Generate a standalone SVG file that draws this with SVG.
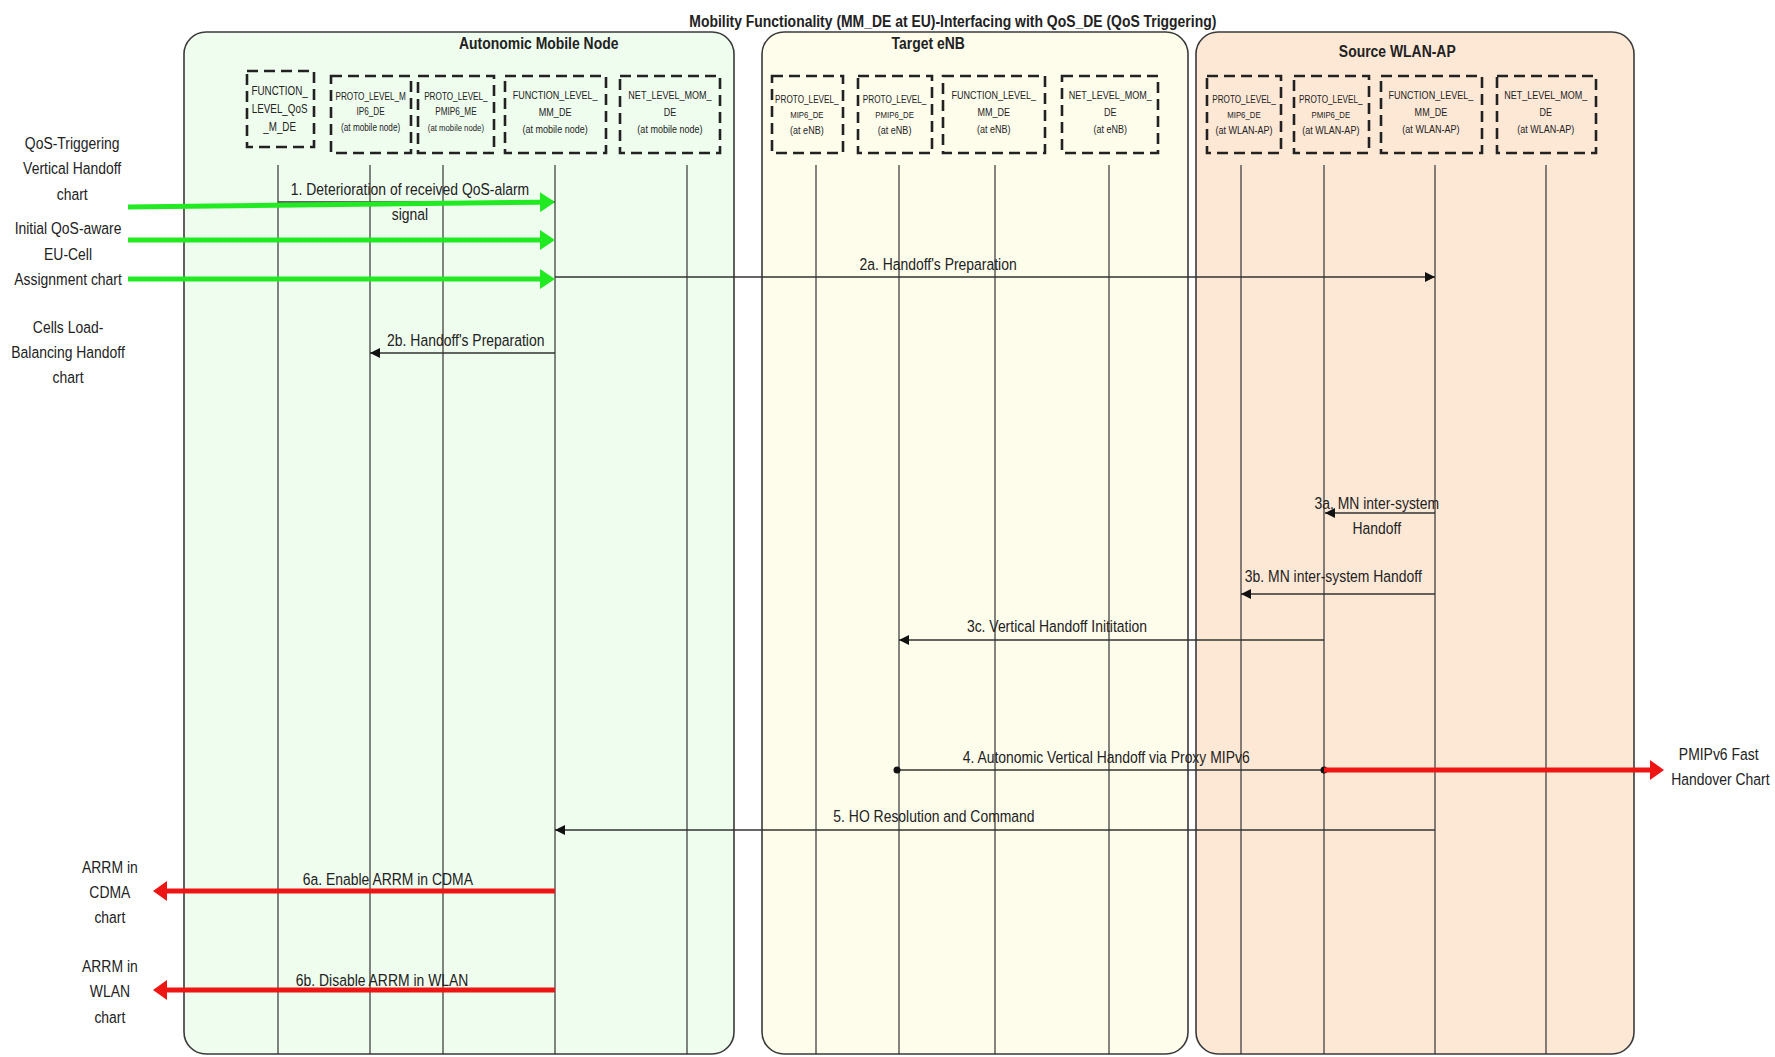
<svg xmlns="http://www.w3.org/2000/svg" width="1775" height="1057" viewBox="0 0 1775 1057">
  <defs>
    <style>
      /* narrow face emulated by a horizontal squeeze; x positions are given in squeezed units (x / 0.82) */
      text { font-family: "Liberation Sans", Arial, sans-serif; fill: #222; text-anchor: middle; transform: scale(0.82, 1); transform-origin: 0 0; }
      .title { font-size: 17px; font-weight: bold; }
      .hdr { font-size: 17px; font-weight: bold; }
      .lbl { font-size: 17px; }
      .s12 { font-size: 12px; }
      .s11 { font-size: 11px; }
      .s10 { font-size: 10px; }
      .s9 { font-size: 9.5px; }
      .frame { stroke: #3a3a3a; stroke-width: 1.6; }
      .mn { fill: #effdee; }
      .enb { fill: #fefdec; }
      .ap { fill: #fde8d6; }
      .box { fill: none; stroke: #222; stroke-width: 2.6; stroke-dasharray: 11 6; }
      .life { stroke: #333; stroke-width: 1.2; }
      .msg { stroke: #333; stroke-width: 1.5; fill: none; marker-end: url(#ah); }
      .green { stroke: #22ea22; stroke-width: 5; fill: none; marker-end: url(#ahg); }
      .red { stroke: #ee1515; stroke-width: 5; fill: none; marker-end: url(#ahr); }
    </style>
    <marker id="ah" viewBox="0 0 10 10" refX="10" refY="5" markerUnits="userSpaceOnUse" markerWidth="11" markerHeight="10" orient="auto">
      <path d="M0,0 L10,5 L0,10 z" fill="#111"/>
    </marker>
    <marker id="ahg" viewBox="0 0 15 20" refX="0" refY="10" markerUnits="userSpaceOnUse" markerWidth="15" markerHeight="20" orient="auto">
      <path d="M0,0 L15,10 L0,20 z" fill="#22ea22"/>
    </marker>
    <marker id="ahr" viewBox="0 0 14 20" refX="0" refY="10" markerUnits="userSpaceOnUse" markerWidth="14" markerHeight="20" orient="auto">
      <path d="M0,0 L14,10 L0,20 z" fill="#ee1515"/>
    </marker>
  </defs>

  <rect width="1775" height="1057" fill="#ffffff"/>

  <text class="title" x="1162" y="27">Mobility Functionality (MM_DE at EU)-Interfacing with QoS_DE (QoS Triggering)</text>

  <!-- swimlane frames -->
  <g id="lane-mobile-node">
    <rect class="frame mn" x="184" y="32" width="550" height="1022" rx="22"/>
    <text class="hdr" x="657" y="49">Autonomic Mobile Node</text>
  </g>
  <g id="lane-target-enb">
    <rect class="frame enb" x="762" y="32" width="426" height="1022" rx="22"/>
    <text class="hdr" x="1132" y="49">Target eNB</text>
  </g>
  <g id="lane-source-wlan-ap">
    <rect class="frame ap" x="1196" y="32" width="438" height="1022" rx="22"/>
    <text class="hdr" x="1704" y="57">Source WLAN-AP</text>
  </g>

  <!-- lifelines -->
  <g id="lifelines">
    <line class="life" x1="278" y1="165" x2="278" y2="1054"/>
    <line class="life" x1="370" y1="165" x2="370" y2="1054"/>
    <line class="life" x1="443" y1="165" x2="443" y2="1054"/>
    <line class="life" x1="555" y1="165" x2="555" y2="1054"/>
    <line class="life" x1="687" y1="165" x2="687" y2="1054"/>
    <line class="life" x1="816" y1="165" x2="816" y2="1054"/>
    <line class="life" x1="899" y1="165" x2="899" y2="1054"/>
    <line class="life" x1="995" y1="165" x2="995" y2="1054"/>
    <line class="life" x1="1109" y1="165" x2="1109" y2="1054"/>
    <line class="life" x1="1241" y1="165" x2="1241" y2="1054"/>
    <line class="life" x1="1324" y1="165" x2="1324" y2="1054"/>
    <line class="life" x1="1435" y1="165" x2="1435" y2="1054"/>
    <line class="life" x1="1546" y1="165" x2="1546" y2="1054"/>
  </g>

  <!-- participants: mobile node -->
  <g id="mn-function-qos">
    <rect class="box" x="247" y="71" width="67" height="76"/>
    <text class="s12" x="341" y="95">FUNCTION_</text>
    <text class="s12" x="341" y="113">LEVEL_QoS</text>
    <text class="s12" x="341" y="131">_M_DE</text>
  </g>
  <g id="mn-proto-mip6">
    <rect class="box" x="331" y="76" width="80" height="77"/>
    <text class="s10" x="452" y="100">PROTO_LEVEL_M</text>
    <text class="s10" x="452" y="115">IP6_DE</text>
    <text class="s10" x="452" y="131">(at mobile node)</text>
  </g>
  <g id="mn-proto-pmip6">
    <rect class="box" x="418" y="76" width="76" height="77"/>
    <text class="s10" x="556" y="100">PROTO_LEVEL_</text>
    <text class="s10" x="556" y="115">PMIP6_ME</text>
    <text class="s9" x="556" y="131">(at mobile node)</text>
  </g>
  <g id="mn-function-mm">
    <rect class="box" x="505" y="76" width="101" height="77"/>
    <text class="s11" x="677" y="99">FUNCTION_LEVEL_</text>
    <text class="s11" x="677" y="116">MM_DE</text>
    <text class="s11" x="677" y="133">(at mobile node)</text>
  </g>
  <g id="mn-net-mom">
    <rect class="box" x="620" y="76" width="100" height="77"/>
    <text class="s11" x="817" y="99">NET_LEVEL_MOM_</text>
    <text class="s11" x="817" y="116">DE</text>
    <text class="s11" x="817" y="133">(at mobile node)</text>
  </g>

  <!-- participants: target eNB -->
  <g id="enb-proto-mip6">
    <rect class="box" x="772" y="76" width="71" height="77"/>
    <text class="s10" x="984" y="103">PROTO_LEVEL_</text>
    <text class="s9" x="984" y="118">MIP6_DE</text>
    <text class="s11" x="984" y="134">(at eNB)</text>
  </g>
  <g id="enb-proto-pmip6">
    <rect class="box" x="858" y="76" width="74" height="77"/>
    <text class="s10" x="1091" y="103">PROTO_LEVEL_</text>
    <text class="s9" x="1091" y="118">PMIP6_DE</text>
    <text class="s11" x="1091" y="134">(at eNB)</text>
  </g>
  <g id="enb-function-mm">
    <rect class="box" x="943" y="76" width="102" height="77"/>
    <text class="s11" x="1212" y="99">FUNCTION_LEVEL_</text>
    <text class="s11" x="1212" y="116">MM_DE</text>
    <text class="s11" x="1212" y="133">(at eNB)</text>
  </g>
  <g id="enb-net-mom">
    <rect class="box" x="1062" y="76" width="96" height="77"/>
    <text class="s11" x="1354" y="99">NET_LEVEL_MOM_</text>
    <text class="s11" x="1354" y="116">DE</text>
    <text class="s11" x="1354" y="133">(at eNB)</text>
  </g>

  <!-- participants: source WLAN-AP -->
  <g id="ap-proto-mip6">
    <rect class="box" x="1207" y="76" width="74" height="77"/>
    <text class="s10" x="1517" y="103">PROTO_LEVEL_</text>
    <text class="s9" x="1517" y="118">MIP6_DE</text>
    <text class="s11" x="1517" y="134">(at WLAN-AP)</text>
  </g>
  <g id="ap-proto-pmip6">
    <rect class="box" x="1294" y="76" width="75" height="77"/>
    <text class="s10" x="1623" y="103">PROTO_LEVEL_</text>
    <text class="s9" x="1623" y="118">PMIP6_DE</text>
    <text class="s11" x="1623" y="134">(at WLAN-AP)</text>
  </g>
  <g id="ap-function-mm">
    <rect class="box" x="1381" y="76" width="101" height="77"/>
    <text class="s11" x="1745" y="99">FUNCTION_LEVEL_</text>
    <text class="s11" x="1745" y="116">MM_DE</text>
    <text class="s11" x="1745" y="133">(at WLAN-AP)</text>
  </g>
  <g id="ap-net-mom">
    <rect class="box" x="1497" y="76" width="99" height="77"/>
    <text class="s11" x="1885" y="99">NET_LEVEL_MOM_</text>
    <text class="s11" x="1885" y="116">DE</text>
    <text class="s11" x="1885" y="133">(at WLAN-AP)</text>
  </g>

  <!-- external charts -->
  <g id="chart-qos-triggering">
    <text class="lbl" x="88" y="149">QoS-Triggering</text>
    <text class="lbl" x="88" y="174">Vertical Handoff</text>
    <text class="lbl" x="88" y="200">chart</text>
  </g>
  <g id="chart-initial-assignment">
    <text class="lbl" x="83" y="234">Initial QoS-aware</text>
    <text class="lbl" x="83" y="260">EU-Cell</text>
    <text class="lbl" x="83" y="285">Assignment chart</text>
  </g>
  <g id="chart-load-balancing">
    <text class="lbl" x="83" y="333">Cells Load-</text>
    <text class="lbl" x="83" y="358">Balancing Handoff</text>
    <text class="lbl" x="83" y="383">chart</text>
  </g>
  <g id="chart-arrm-cdma">
    <text class="lbl" x="134" y="873">ARRM in</text>
    <text class="lbl" x="134" y="898">CDMA</text>
    <text class="lbl" x="134" y="923">chart</text>
  </g>
  <g id="chart-arrm-wlan">
    <text class="lbl" x="134" y="972">ARRM in</text>
    <text class="lbl" x="134" y="997">WLAN</text>
    <text class="lbl" x="134" y="1023">chart</text>
  </g>
  <g id="chart-pmipv6-fast">
    <text class="lbl" x="2096" y="760">PMIPv6 Fast</text>
    <text class="lbl" x="2098" y="785">Handover Chart</text>
  </g>

  <!-- messages -->
  <g id="connectors">
    <line class="msg" x1="278" y1="202" x2="555" y2="202"/>
    <path class="green" d="M128,207 L540,202.2"/>
    <path class="green" d="M128,240 L540,240"/>
    <path class="green" d="M128,279 L540,279"/>
    <line class="msg" x1="555" y1="277" x2="1435" y2="277"/>
    <line class="msg" x1="555" y1="353" x2="370" y2="353"/>
    <line class="msg" x1="1435" y1="513" x2="1325" y2="513"/>
    <line class="msg" x1="1435" y1="594" x2="1241" y2="594"/>
    <line class="msg" x1="1324" y1="640" x2="899" y2="640"/>
    <line stroke="#333" stroke-width="1.5" x1="897" y1="770" x2="1324" y2="770"/>
    <circle cx="897" cy="770" r="3.5" fill="#111"/>
    <circle cx="1324" cy="770" r="3.5" fill="#111"/>
    <path class="red" d="M1324,770 L1650,770"/>
    <line class="msg" x1="1435" y1="830" x2="555" y2="830"/>
    <path class="red" d="M555,891 L167,891"/>
    <path class="red" d="M555,990 L167,990"/>
  </g>

  <!-- message labels -->
  <g id="message-labels">
    <text class="lbl" x="500" y="195">1. Deterioration of received QoS-alarm</text>
    <text class="lbl" x="500" y="220">signal</text>
    <text class="lbl" x="1144" y="270">2a. Handoff's Preparation</text>
    <text class="lbl" x="568" y="346">2b. Handoff's Preparation</text>
    <text class="lbl" x="1679" y="509">3a. MN inter-system</text>
    <text class="lbl" x="1679" y="534">Handoff</text>
    <text class="lbl" x="1626" y="582">3b. MN inter-system Handoff</text>
    <text class="lbl" x="1289" y="632">3c. Vertical Handoff Inititation</text>
    <text class="lbl" x="1349" y="763">4. Autonomic Vertical Handoff via Proxy MIPv6</text>
    <text class="lbl" x="1139" y="822">5. HO Resolution and Command</text>
    <text class="lbl" x="473" y="885">6a. Enable ARRM in CDMA</text>
    <text class="lbl" x="466" y="986">6b. Disable ARRM in WLAN</text>
  </g>
</svg>
